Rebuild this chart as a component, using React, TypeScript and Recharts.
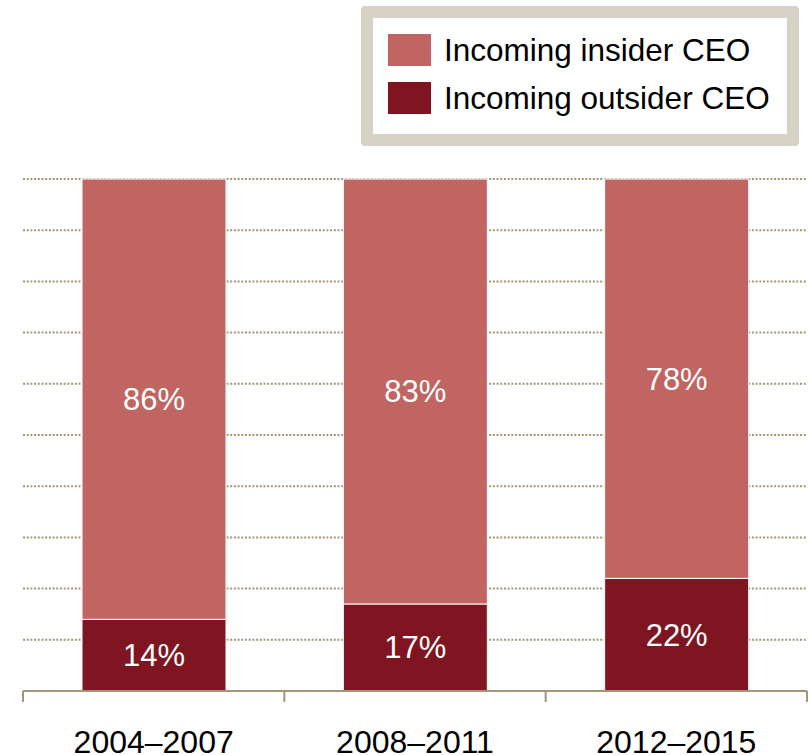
import React from 'react';
import { BarChart, Bar, XAxis, YAxis, CartesianGrid, LabelList } from 'recharts';

const periods = ['2004–2007', '2008–2011', '2012–2015'];
const insiderShare = [86, 83, 78];
const outsiderShare = [14, 17, 22];
const yTicks = [0, 10, 20, 30, 40, 50, 60, 70, 80, 90, 100];

const data = periods.map((period, i) => ({
  period,
  insider: insiderShare[i],
  outsider: outsiderShare[i],
}));

const W = 811;
const H = 755;
const margin = { top: 179, right: 4, left: 23, bottom: 0 };
const bandWidth = (W - margin.left - margin.right) / periods.length;

const colors = {
  insider: '#c06561',
  outsider: '#7f1520',
  axis: '#a39576',
  grid: '#a09674',
  frame: '#d6d2c5',
};
const font = '"Liberation Sans", Arial, Helvetica, sans-serif';

const legendItems = [
  { label: 'Incoming insider CEO', color: colors.insider },
  { label: 'Incoming outsider CEO', color: colors.outsider },
];

// legend is a plain overlay so it doesn't steal plot height
function LegendBox() {
  return (
    <div
      style={{
        position: 'absolute',
        left: 361,
        top: 6,
        width: 438,
        height: 140,
        boxSizing: 'border-box',
        border: `12px solid ${colors.frame}`,
        borderRadius: 4,
        background: '#fff',
        fontFamily: font,
        fontSize: 31.5,
        color: '#000',
        paddingTop: 8,
      }}
    >
      {legendItems.map((item) => (
        <div key={item.label} style={{ display: 'flex', alignItems: 'center', height: 48, paddingLeft: 15 }}>
          <span style={{ display: 'inline-block', width: 43, height: 32, background: item.color, marginRight: 13, flex: 'none' }} />
          <span style={{ whiteSpace: 'nowrap' }}>{item.label}</span>
        </div>
      ))}
    </div>
  );
}

function PeriodTick(props: any) {
  const { x, y, payload, index } = props;
  const half = bandWidth / 2;
  return (
    <g>
      <line x1={x - half} x2={x - half} y1={y} y2={y + 11} stroke={colors.axis} strokeWidth={2} />
      {index === periods.length - 1 && (
        <line x1={x + half} x2={x + half} y1={y} y2={y + 11} stroke={colors.axis} strokeWidth={2} />
      )}
      <text x={x} y={y + 62} textAnchor="middle" fill="#000" fontSize={32} fontFamily={font}>
        {payload.value}
      </text>
    </g>
  );
}

export default function App() {
  return (
    <div style={{ position: 'absolute', left: 0, top: 0, width: W, height: H, background: '#fff' }}>
      <BarChart width={W} height={H} data={data} margin={margin} barSize={144}>
        <CartesianGrid
          vertical={false}
          stroke={colors.grid}
          strokeWidth={2}
          strokeDasharray="2 1.7"
        />
        <XAxis
          dataKey="period"
          height={64}
          tickSize={0}
          tickMargin={0}
          tickLine={false}
          axisLine={{ stroke: colors.axis, strokeWidth: 2 }}
          tick={<PeriodTick />}
          interval={0}
        />
        <YAxis hide domain={[0, 100]} ticks={yTicks} width={0} />
        <Bar dataKey="outsider" stackId="ceo" fill={colors.outsider} stroke="#fff" strokeWidth={1} isAnimationActive={false}>
          <LabelList
            dataKey="outsider"
            position="center"
            fill="#fff"
            fontSize={31}
            fontFamily={font}
            formatter={(v: any) => `${v}%`}
          />
        </Bar>
        <Bar dataKey="insider" stackId="ceo" fill={colors.insider} stroke="#fff" strokeWidth={1} isAnimationActive={false}>
          <LabelList
            dataKey="insider"
            position="center"
            fill="#fff"
            fontSize={31}
            fontFamily={font}
            formatter={(v: any) => `${v}%`}
          />
        </Bar>
      </BarChart>
      <LegendBox />
    </div>
  );
}
